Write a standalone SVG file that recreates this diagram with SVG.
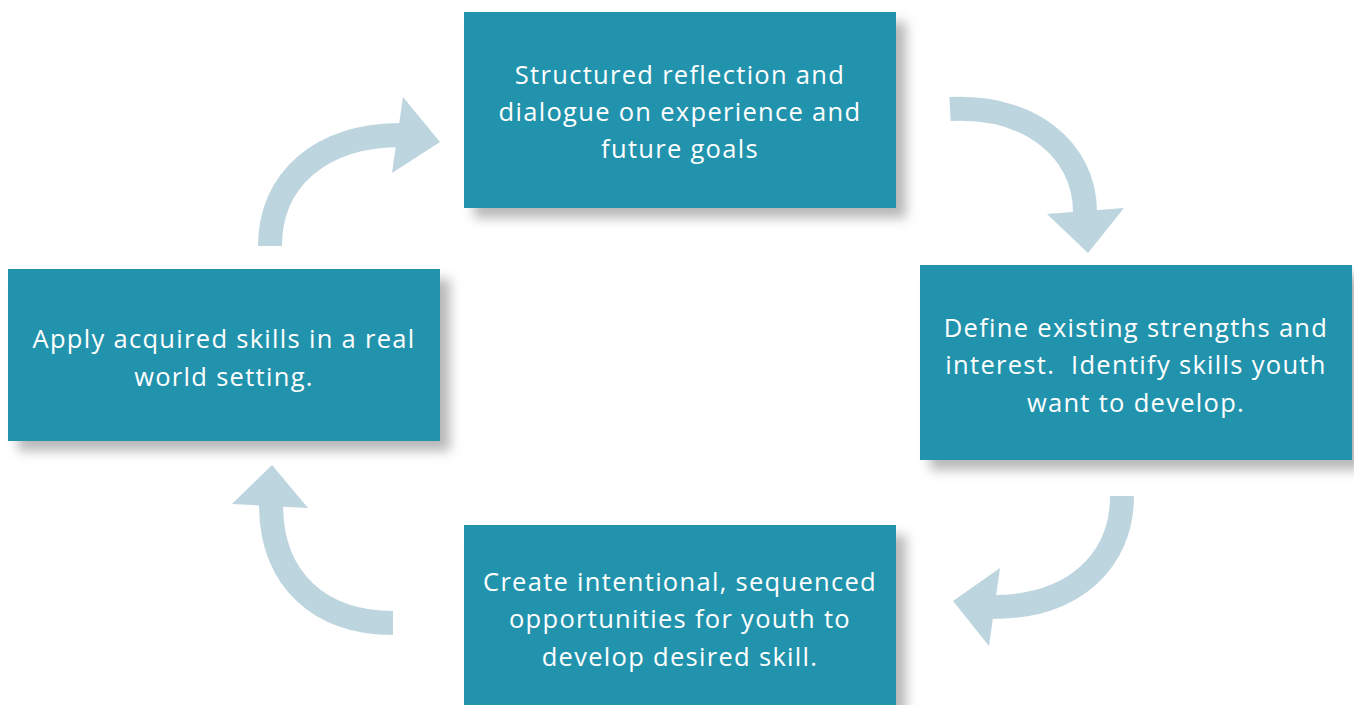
<svg xmlns="http://www.w3.org/2000/svg" width="1354" height="705" viewBox="0 0 1354 705">
  <defs>
    <filter id="shadow" x="-10%" y="-10%" width="130%" height="140%">
      <feDropShadow dx="10" dy="10" stdDeviation="6" flood-color="#000" flood-opacity="0.28"/>
    </filter>
    <style>
      .box { fill: #2393ad; filter: url(#shadow); }
      .label { font-family: "Open Sans", Lato, sans-serif; font-size: 25.5px; letter-spacing: 1.3px; fill: #ffffff; text-anchor: middle; white-space: pre; }
      .arc { fill: none; stroke: #bdd5df; stroke-width: 24; }
      .head { fill: #bdd5df; }
    </style>
  </defs>
  <rect width="1354" height="705" fill="#ffffff"/>

  <!-- curved cycle arrows -->
  <g id="connectors">
    <path class="arc" d="M270,246 C270,180 320,135 402,135"/>
    <polygon class="head" points="403,97 440,142 392,173"/>
    <path class="arc" d="M950,109 C1030,105 1085,150 1085,212"/>
    <polygon class="head" points="1047,214 1124,208 1088,253"/>
    <path class="arc" d="M1122,496 C1122,560 1075,607 993,607"/>
    <polygon class="head" points="1000,568 953,601 989,646"/>
    <path class="arc" d="M393,623 C320,623 271,580 271,504"/>
    <polygon class="head" points="272,465 232,504 308,508"/>
  </g>

  <g id="reflect">
    <rect class="box" x="464" y="12" width="432" height="196"/>
    <text class="label" x="680" y="84">Structured reflection and</text>
    <text class="label" x="680" y="121">dialogue on experience and</text>
    <text class="label" x="680" y="158">future goals</text>
  </g>

  <g id="define">
    <rect class="box" x="920" y="265" width="432" height="195"/>
    <text class="label" x="1136" y="337">Define existing strengths and</text>
    <text class="label" x="1136" y="374">interest.  Identify skills youth</text>
    <text class="label" x="1136" y="412">want to develop.</text>
  </g>

  <g id="create">
    <rect class="box" x="464" y="525" width="432" height="190"/>
    <text class="label" x="680" y="591">Create intentional, sequenced</text>
    <text class="label" x="680" y="628">opportunities for youth to</text>
    <text class="label" x="680" y="666">develop desired skill.</text>
  </g>

  <g id="apply">
    <rect class="box" x="8" y="269" width="432" height="172"/>
    <text class="label" x="224" y="348">Apply acquired skills in a real</text>
    <text class="label" x="224" y="386">world setting.</text>
  </g>
</svg>
